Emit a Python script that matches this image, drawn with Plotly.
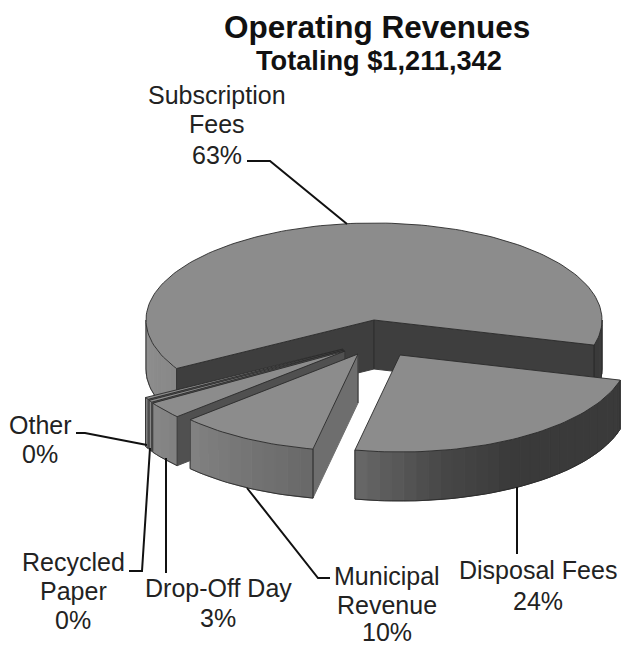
import numpy as np
import plotly.graph_objects as go

# Data
categories = ["Subscription Fees", "Disposal Fees", "Municipal Revenue", "Drop-Off Day", "Recycled Paper", "Other"]
values = [62.5, 24.0, 10.0, 2.8, 0.35, 0.35]
percent_labels = ["63%", "24%", "10%", "3%", "0%", "0%"]
title_text = "Operating Revenues"
subtitle_text = "Totaling $1,211,342"

# Projection / style
W, H = 621, 646
CX, CY, RX, RY, DEPTH = 374, 320, 228, 97, 49
START = 15.0  # degrees, measured clockwise on screen from the right
offsets = [(0, 0), (26, 35), (-16, 34), (-29, 31), (-30, 30), (-31, 29)]
cut_colors = ["#3e3e3e", "#3e3e3e", "#6e6e6e", "#505050", "#555555", "#555555"]
TOP = "#8c8c8c"
EDGE = "#2a2a2a"
shade_t = [0, 60, 80, 101, 137, 150, 180]
shade_v = [0x3a, 0x3a, 0x48, 0x68, 0x82, 0x88, 0x90]

fig = go.Figure()


def poly(x, y, fill, line=None, width=1):
    fig.add_trace(go.Scatter(x=list(x), y=list(y), mode="lines", fill="toself", fillcolor=fill,
                             line=dict(color=line or fill, width=width), hoverinfo="skip", showlegend=False))


def path(x, y, color=EDGE, width=0.9):
    fig.add_trace(go.Scatter(x=list(x), y=list(y), mode="lines", line=dict(color=color, width=width),
                             hoverinfo="skip", showlegend=False))


def grey(t):
    t = t % 360
    v = int(np.interp(t, shade_t, shade_v))
    return f"rgb({v},{v},{v})"


def pt(cx, cy, t):
    r = np.radians(t)
    return cx + RX * np.cos(r), cy + RY * np.sin(r)


def draw_slice(i, t0, t1):
    cx, cy = CX + offsets[i][0], CY + offsets[i][1]
    ts = np.linspace(t0, t1, max(2, int((t1 - t0) / 1.5) + 1))
    ax, ay = pt(cx, cy, ts)
    # cut faces, visible if their outward normal faces the viewer
    for t, normal in ((t0, t0 - 90), (t1, t1 + 90)):
        if np.sin(np.radians(normal)) > 0:
            ex, ey = pt(cx, cy, t)
            poly([cx, ex, ex, cx, cx], [cy, ey, ey + DEPTH, cy + DEPTH, cy], cut_colors[i])
            path([ex, ex], [ey, ey + DEPTH])
            path([cx, cx], [cy, cy + DEPTH])
    # outer wall as shaded strips, only where it faces the viewer
    for lo, hi in ((0, 180), (360, 540)):
        a, b = max(t0, lo), min(t1, hi)
        if b <= a:
            continue
        st = np.linspace(a, b, max(2, int((b - a) / 3) + 1))
        for s0, s1 in zip(st[:-1], st[1:]):
            x0, y0 = pt(cx, cy, s0)
            x1, y1 = pt(cx, cy, s1)
            poly([x0, x1, x1, x0, x0], [y0, y1, y1 + DEPTH, y0 + DEPTH, y0], grey((s0 + s1) / 2))
        wt = np.linspace(a, b, max(2, int((b - a) / 1.5) + 1))
        wx, wy = pt(cx, cy, wt)
        path(wx, wy + DEPTH)
        for e in (a, b):
            ex, ey = pt(cx, cy, e)
            path([ex, ex], [ey, ey + DEPTH])
    # top face
    poly(np.r_[cx, ax, cx], np.r_[cy, ay, cy], TOP, EDGE, 0.9)


# Angles come from the values
spans = np.array(values) / sum(values) * 360
rest = []
t = START
for v in spans[1:]:
    rest.append((t, t + v))
    t += v

main0 = START - spans[0] + 360
draw_slice(0, main0, main0 + spans[0])
for idx in (5, 4, 3, 2, 1):
    draw_slice(idx, rest[idx - 1][0], rest[idx - 1][1])

# Leader lines
leaders = [
    ([347, 270, 247], [224, 161, 161]),
    ([517, 517], [487, 554]),
    ([247, 318, 330], [488, 578, 578]),
    ([166, 166], [458, 573]),
    ([150, 142, 129], [448, 571, 571]),
    ([147, 85, 76], [445, 433, 433]),
]
for lx, ly in leaders:
    path(lx, ly, "#111111", 2)

# Text
label_lines = [
    (217, [95, 124, 155], ["Subscription", "Fees", percent_labels[0]]),
    (538, [570, 601], ["Disposal Fees", percent_labels[1]]),
    (387, [576, 605, 632], ["Municipal", "Revenue", percent_labels[2]]),
    (218, [588, 618], ["Drop-Off Day", percent_labels[3]]),
    (73, [562, 591, 620], ["Recycled", "Paper", percent_labels[4]]),
    (40, [425, 454], ["Other", percent_labels[5]]),
]
annotations = []
for x, ys, lines in label_lines:
    for y, s in zip(ys, lines):
        annotations.append(dict(x=x, y=y, text=s, showarrow=False, xanchor="center", yanchor="middle",
                                font=dict(family="Liberation Sans", size=25, color="#222222")))
annotations.append(dict(x=377, y=27, text=f"<b>{title_text}</b>", showarrow=False, xanchor="center", yanchor="middle",
                        font=dict(family="Liberation Sans", size=31.5, color="#111111")))
annotations.append(dict(x=379, y=60, text=f"<b>{subtitle_text}</b>", showarrow=False, xanchor="center", yanchor="middle",
                        font=dict(family="Liberation Sans", size=27.2, color="#111111")))

fig.update_layout(
    width=W, height=H, margin=dict(l=0, r=0, t=0, b=0),
    paper_bgcolor="white", plot_bgcolor="white", showlegend=False,
    xaxis=dict(range=[0, W], visible=False, fixedrange=True),
    yaxis=dict(range=[H, 0], visible=False, fixedrange=True),
    annotations=annotations,
)
fig.write_html("out.html", config=dict(displayModeBar=False),
               post_script="document.body.style.margin='0';document.documentElement.style.overflow='hidden';")
